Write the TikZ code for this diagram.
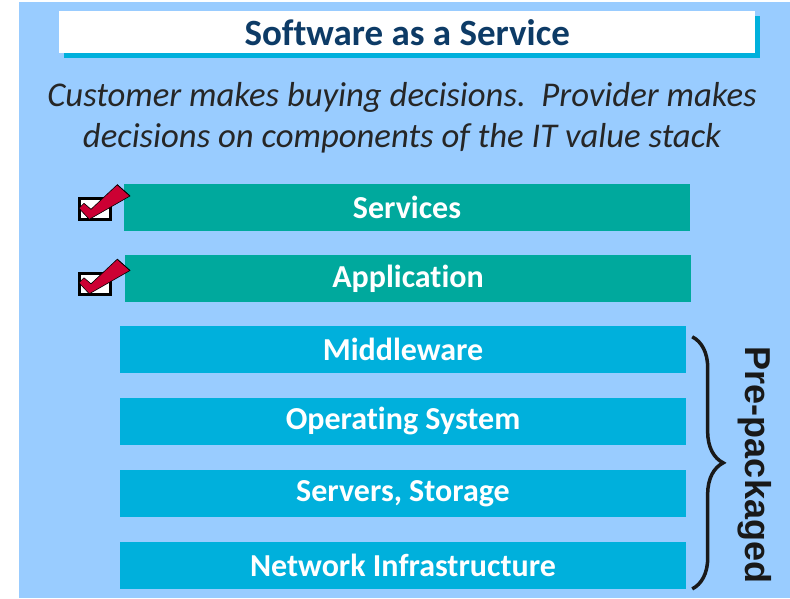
\documentclass[tikz,border=0pt]{standalone}
\usepackage{fontspec}
\setmainfont{Carlito}[Ligatures=NoCommon]
\newfontfamily\sidefont{Liberation Sans}
\usetikzlibrary{positioning}
\usetikzlibrary{decorations.pathreplacing}
\definecolor{skyback}{HTML}{99CCFF}
\definecolor{stackteal}{HTML}{00A99D}
\definecolor{stackcyan}{HTML}{00B0DC}
\definecolor{titlenavy}{HTML}{0D3B66}
\definecolor{tickred}{HTML}{CC0033}

\begin{document}
\begin{tikzpicture}[x=1pt,y=-1pt,
    layer/.style={minimum width=566pt, minimum height=47pt, inner sep=0pt,
      text=white, font=\fontsize{32}{32}\selectfont\bfseries},
    tickbox/.style={draw=black, line width=3pt, fill=white,
      minimum width=31pt, minimum height=21pt, inner sep=0pt},
    tick/.style={fill=tickred, draw=black, line width=0.6pt, line join=round},
  ]
    \useasboundingbox (0,0) rectangle (790,598);
    \fill[skyback] (19,2) rectangle (790,598);

    % Title with its shadow
    \fill[stackcyan] (64,16) rectangle (760,58);
    \node[fill=white, minimum width=696pt, minimum height=42pt, inner sep=0pt,
      anchor=north west, text=titlenavy,
      font=\fontsize{37}{37}\selectfont\bfseries] (title) at (59,11) {Software as a Service};

    % Tagline
    \node[align=center, text=black!85, font=\itshape\fontsize{34.7}{41}\selectfont]
      (tagline) at (402,118)
      {Customer makes buying decisions.\ \ Provider makes\\decisions on components of the IT value stack};

    % Customer's layers
    \node[layer, fill=stackteal] (services) at (407,207.5) {Services};
    \node[layer, fill=stackteal] (application) at (408,278.5) {Application};

    % Provider's layers
    \node[layer, fill=stackcyan] (middleware) at (403,349.5) {Middleware};
    \node[layer, fill=stackcyan, below=24.5pt of middleware] (opsys) {Operating System};
    \node[layer, fill=stackcyan, below=24.5pt of opsys] (servers) {Servers, Storage};
    \node[layer, fill=stackcyan, below=24.5pt of servers] (network) {Network Infrastructure};

    % Check marks
    \node[tickbox] (box1) at (95,209) {};
    \fill[tick] ([shift={(-16,-0.7)}]box1.center) -- ([shift={(-5.7,10.3)}]box1.center)
      -- ([shift={(35,-13)}]box1.center) -- ([shift={(22.3,-24.3)}]box1.center)
      -- ([shift={(-4,0.3)}]box1.center) -- ([shift={(-11,-5.7)}]box1.center) -- cycle;
    \draw[tick, fill=none] ([shift={(35,-13)}]box1.center) -- ([shift={(22.3,-24.3)}]box1.center);

    \node[tickbox] (box2) at (95,283.5) {};
    \fill[tick] ([shift={(-16,-0.7)}]box2.center) -- ([shift={(-5.7,10.3)}]box2.center)
      -- ([shift={(35,-13)}]box2.center) -- ([shift={(22.3,-24.3)}]box2.center)
      -- ([shift={(-4,0.3)}]box2.center) -- ([shift={(-11,-5.7)}]box2.center) -- cycle;
    \draw[tick, fill=none] ([shift={(35,-13)}]box2.center) -- ([shift={(22.3,-24.3)}]box2.center);

    % Brace over the pre-packaged part
    \coordinate (bracetop) at ([xshift=6pt,yshift=-11pt]middleware.north east);
    \coordinate (bracebot) at ([xshift=6pt]network.south east);
    \draw[line width=3.5pt, black!90, decorate, decoration={brace, amplitude=31pt}]
      (bracetop) -- (bracebot);
    \node[rotate=-90, text=black!90, font=\sidefont\bfseries\fontsize{36}{36}\selectfont]
      (prepack) at (755,465) {Pre-packaged};
\end{tikzpicture}
\end{document}
